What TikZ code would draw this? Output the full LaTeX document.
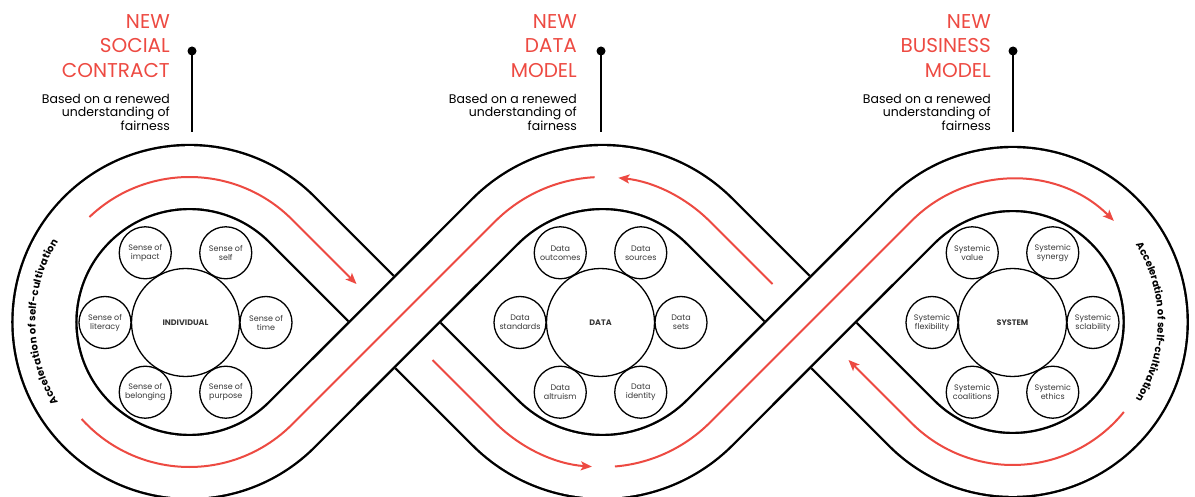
\documentclass[tikz,border=0pt]{standalone}
\usepackage{fontspec}
\setmainfont{Poppins}
\usetikzlibrary{arrows.meta,decorations.text,calc}
\definecolor{accent}{RGB}{237,74,66}
\definecolor{labelgray}{RGB}{55,55,55}
\begin{document}
\begin{tikzpicture}[x=1pt,y=1pt,
  band/.style={line width=2.4pt, double=white, double distance=61.6pt},
  bandedge/.style={line width=2.4pt},
  bandmask/.style={draw=white, line width=66.4pt},
  redpath/.style={draw=accent, line width=2pt},
  redarrow/.style={redpath, -{Stealth[length=11pt,width=9pt,inset=2.5pt]}},
  bigc/.style={circle, draw, line width=1.3pt, minimum size=108pt, inner sep=0pt, font=\fontsize{8}{9}\selectfont\bfseries, text=labelgray},
  smallc/.style={circle, draw, line width=1.3pt, minimum size=52pt, inner sep=0pt, align=center, font=\fontsize{8}{9}\selectfont, text=labelgray},
  heading/.style={anchor=north east, align=right, inner sep=0pt, text=accent, font=\fontsize{20}{24.5}\selectfont},
  subhead/.style={anchor=north east, align=right, inner sep=0pt, font=\fontsize{12.5}{13.5}\selectfont},
  pindot/.style={circle, fill, inner sep=0pt, minimum size=9pt},
  pinline/.style={line width=2.4pt},
  loopword/.style={decorate, decoration={text along path, text align=center, raise=#1,
     text={|\fontsize{10}{11}\selectfont\bfseries|Acceleration of self-cultivation}}}
]
\useasboundingbox (0,0) rectangle (1195,496);

% key points of the band
\coordinate (C1) at (394.5,174);
\coordinate (C2) at (810.5,174);
\coordinate (LC) at (189.44,174);
\coordinate (RC) at (1012.73,174);
\coordinate (MT) at (602.5,167);
\coordinate (MB) at (602.5,181);
\coordinate (TLa) at (291.97,276.53);
\coordinate (TLb) at (291.97,71.47);
\coordinate (TRa) at (911.61,275.12);
\coordinate (TRb) at (911.61,72.88);
\coordinate (MTl) at (495.02,274.48);
\coordinate (MTr) at (709.98,274.48);
\coordinate (MBl) at (495.02,73.52);
\coordinate (MBr) at (709.98,73.52);

% band (under pass)
\draw[band] (C1) -- (MBl) arc[start angle=225, end angle=315, radius=152]
  -- (TRa) arc[start angle=135, end angle=-135, radius=143]
  -- (MTr) arc[start angle=45, end angle=135, radius=152]
  -- (TLb) arc[start angle=-45, end angle=-315, radius=145] -- cycle;
% over passes
\foreach \c in {C1,C2}{
  \draw[bandmask] ($(\c)+(-50,-50)$) -- ($(\c)+(50,50)$);
  \draw[bandedge] ($(\c)+(-60,-60)+(-22.63,22.63)$) -- ($(\c)+(60,60)+(-22.63,22.63)$);
  \draw[bandedge] ($(\c)+(-60,-60)+(22.63,-22.63)$) -- ($(\c)+(60,60)+(22.63,-22.63)$);
}

% red flow
\draw[redarrow] ($(LC)+(133.6:145)$) arc[start angle=133.6, end angle=45, radius=145] -- ($(C1)+(-38,38)$);
\draw[redarrow] ($(C1)+(38,-38)$) -- (MBl) arc[start angle=225, end angle=266, radius=152];
\draw[redarrow] ($(MB)+(274.7:152)$) arc[start angle=274.7, end angle=315, radius=152] -- (TRa) arc[start angle=135, end angle=45, radius=143];
\draw[redarrow] ($(RC)+(-39:143)$) arc[start angle=-39, end angle=-135, radius=143] -- ($(C2)+(38,-38)$);
\draw[redarrow] ($(C2)+(-38,38)$) -- (MTr) arc[start angle=45, end angle=84, radius=152];
\draw[redpath] ($(MT)+(93:152)$) arc[start angle=93, end angle=135, radius=152] -- (TLb) arc[start angle=-45, end angle=-138, radius=145];

% curved labels
\path[loopword=9pt] ($(LC)+(225:145)$) arc[start angle=225, end angle=135, radius=145];
\path[loopword=2pt] ($(RC)+(45:143)$) arc[start angle=45, end angle=-45, radius=143];

% left cluster
\node[bigc] (ind) at (185.5,173.5) {INDIVIDUAL};
\node[smallc] (s1) at ($(ind)+(120:80.5)$) {Sense of\\impact};
\node[smallc] (s2) at ($(ind)+(60:80.5)$) {Sense of\\self};
\node[smallc] (s3) at ($(ind)+(180:80.5)$) {Sense of\\literacy};
\node[smallc] (s4) at ($(ind)+(0:80.5)$) {Sense of\\time};
\node[smallc] (s5) at ($(ind)+(240:80.5)$) {Sense of\\belonging};
\node[smallc] (s6) at ($(ind)+(300:80.5)$) {Sense of\\purpose};

% middle cluster
\node[bigc] (dat) at (600.5,173.5) {DATA};
\node[smallc] (d1) at ($(dat)+(120:80.5)$) {Data\\outcomes};
\node[smallc] (d2) at ($(dat)+(60:80.5)$) {Data\\sources};
\node[smallc] (d3) at ($(dat)+(180:80.5)$) {Data\\standards};
\node[smallc] (d4) at ($(dat)+(0:80.5)$) {Data\\sets};
\node[smallc] (d5) at ($(dat)+(240:80.5)$) {Data\\altruism};
\node[smallc] (d6) at ($(dat)+(300:80.5)$) {Data\\identity};

% right cluster
\node[bigc] (sys) at (1012.5,173.5) {SYSTEM};
\node[smallc] (y1) at ($(sys)+(120:80.5)$) {Systemic\\value};
\node[smallc] (y2) at ($(sys)+(60:80.5)$) {Systemic\\synergy};
\node[smallc] (y3) at ($(sys)+(180:80.5)$) {Systemic\\flexibility};
\node[smallc] (y4) at ($(sys)+(0:80.5)$) {Systemic\\sclability};
\node[smallc] (y5) at ($(sys)+(240:80.5)$) {Systemic\\coalitions};
\node[smallc] (y6) at ($(sys)+(300:80.5)$) {Systemic\\ethics};

% headings
\node[heading] (h1) at (170,482) {NEW\\SOCIAL\\CONTRACT};
\node[heading] (h2) at (577,482) {NEW\\DATA\\MODEL};
\node[heading] (h3) at (991,482) {NEW\\BUSINESS\\MODEL};
\node[subhead] (b1) at (170,402) {Based on a renewed\\understanding of\\fairness};
\node[subhead] (b2) at (577,402) {Based on a renewed\\understanding of\\fairness};
\node[subhead] (b3) at (991,402) {Based on a renewed\\understanding of\\fairness};

% pins
\node[pindot] (p1) at (192,445) {};
\node[pindot] (p2) at (601,445) {};
\node[pindot] (p3) at (1013,445) {};
\coordinate (p1e) at (192,364);
\coordinate (p2e) at (601,364);
\coordinate (p3e) at (1013,364);
\draw[pinline] (p1.center) -- (p1e);
\draw[pinline] (p2.center) -- (p2e);
\draw[pinline] (p3.center) -- (p3e);
\end{tikzpicture}
\end{document}
